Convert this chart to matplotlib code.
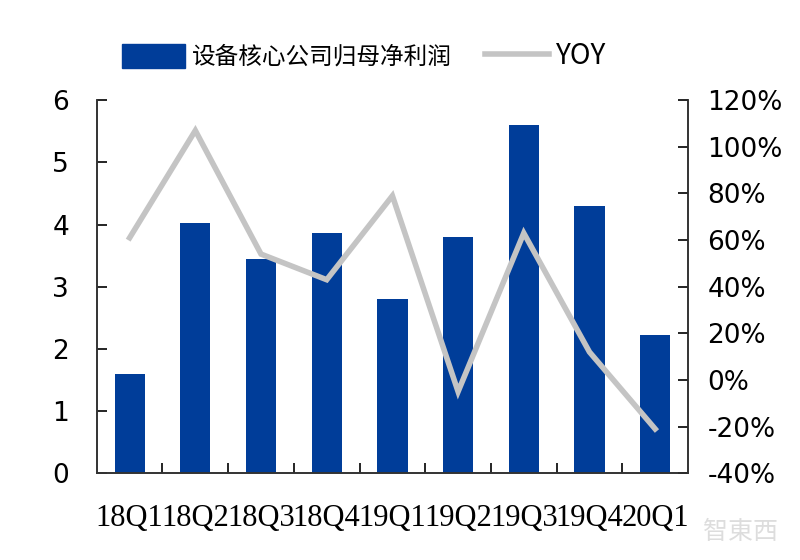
import matplotlib.pyplot as plt
import numpy as np
from matplotlib.ticker import FuncFormatter, FixedLocator
from matplotlib.lines import Line2D
from matplotlib.patches import Patch

plt.rcParams['font.family'] = ['Noto Sans CJK SC', 'DejaVu Sans']

# data
quarters = ['18Q1', '18Q2', '18Q3', '18Q4', '19Q1', '19Q2', '19Q3', '19Q4', '20Q1']
profit = [1.6, 4.03, 3.45, 3.87, 2.8, 3.8, 5.6, 4.3, 2.22]
yoy = [61, 107, 54, 43, 79, -5, 63, 12, -21]

bar_color = '#003d99'
line_color = '#c4c4c4'

fig = plt.figure(figsize=(8, 5.6), dpi=100)
ax = fig.add_axes([0.121, 0.155, 0.739, 0.666])
ax2 = ax.twinx()

x = np.arange(len(quarters))
ax.bar(x, profit, width=0.46, color=bar_color, zorder=2)
ax2.plot(x, yoy, color=line_color, linewidth=4, solid_joinstyle='miter', zorder=3)

ax.set_xlim(-0.5, len(quarters) - 0.5)
ax.set_ylim(0, 6)
ax2.set_ylim(-40, 120)
ax.set_yticks(range(0, 7))
ax2.set_yticks(range(-40, 121, 20))
ax2.yaxis.set_major_formatter(FuncFormatter(lambda v, p: f'{v:.0f}%'))

ax.set_xticks(x)
ax.set_xticklabels(quarters, family='Liberation Serif', fontsize=22)
ax.xaxis.set_minor_locator(FixedLocator(np.arange(0.5, len(quarters) - 1, 1)))
ax.tick_params(axis='x', which='major', length=0, pad=22)
ax.tick_params(axis='x', which='minor', direction='in', length=7, width=1.2)
ax.tick_params(axis='y', direction='in', length=7, width=1.2, labelsize=19, pad=20)
ax2.tick_params(axis='y', direction='in', length=7, width=1.2, labelsize=19, pad=14)
for lab in ax.get_yticklabels() + ax2.get_yticklabels():
    lab.set_family('DejaVu Sans')

ax.spines['top'].set_visible(False)
ax2.spines['top'].set_visible(False)
for a in (ax, ax2):
    for s in ('left', 'right', 'bottom'):
        a.spines[s].set_linewidth(1.2)
        a.spines[s].set_color('#333333')

handles = [Patch(facecolor=bar_color, edgecolor=bar_color),
           Line2D([0], [0], color=line_color, linewidth=4)]
leg = fig.legend(handles, ['设备核心公司归母净利润', 'YOY'], loc='upper center',
                 bbox_to_anchor=(0.455, 0.965), ncol=2, frameon=False, fontsize=17,
                 handlelength=2.7, handleheight=1.2, handletextpad=0.3, columnspacing=1.4)
leg.get_texts()[1].set_fontsize(20)

fig.text(0.925, 0.05, '智東西', fontsize=18, color='#dddddd', ha='center', va='center')

fig.savefig('out.png', dpi=100)
